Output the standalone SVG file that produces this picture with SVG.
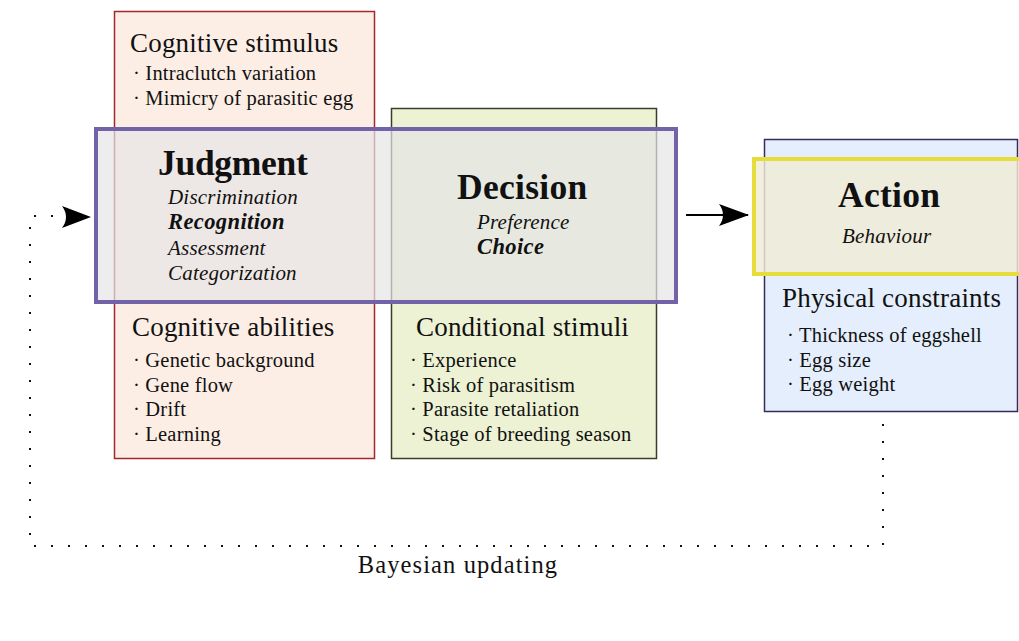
<svg xmlns="http://www.w3.org/2000/svg" width="1019" height="641" viewBox="0 0 1019 641">
<style>
text{font-family:"Liberation Serif","Times New Roman",serif;fill:#111}
.h{font-size:27px;letter-spacing:0.2px}
.it{font-size:20.5px;letter-spacing:0.2px}
.t{font-size:35.5px;font-weight:bold;letter-spacing:0.3px}
.s{font-size:21px;font-style:italic;letter-spacing:0.2px}
.sb{font-size:22.5px;font-style:italic;font-weight:bold;letter-spacing:0.4px}
.dot{fill:none;stroke:#111;stroke-width:2;stroke-dasharray:2 15}
</style>
<defs>
<marker id="ah" viewBox="0 0 30 22" refX="29" refY="11" markerWidth="30" markerHeight="22" markerUnits="userSpaceOnUse" orient="auto">
<path d="M0,0 L30,11 L0,22 Q8,11 0,0 Z" fill="#000"/>
</marker>
</defs>
<rect width="1019" height="641" fill="#fff"/>
<g id="cognitive">
<rect x="114.5" y="11.5" width="260" height="447" fill="#fdeee5" stroke="#a3272b" stroke-width="1.5"/>
<text class="h" x="130" y="52">Cognitive stimulus</text>
<text class="it" x="133" y="80">· Intraclutch variation</text>
<text class="it" x="133" y="105">· Mimicry of parasitic egg</text>
<text class="h" x="132" y="336">Cognitive abilities</text>
<text class="it" x="133" y="367">· Genetic background</text>
<text class="it" x="133" y="392">· Gene flow</text>
<text class="it" x="133" y="416">· Drift</text>
<text class="it" x="133" y="441">· Learning</text>
</g>
<g id="conditional">
<rect x="391.5" y="108.5" width="265" height="350" fill="#ecf2d3" stroke="#3a3f2a" stroke-width="1.5"/>
<text class="h" x="416" y="336">Conditional stimuli</text>
<text class="it" x="410" y="367">· Experience</text>
<text class="it" x="410" y="392">· Risk of parasitism</text>
<text class="it" x="410" y="416">· Parasite retaliation</text>
<text class="it" x="410" y="441">· Stage of breeding season</text>
</g>
<g id="physical">
<rect x="764.5" y="139.5" width="253" height="272" fill="#e4eefc" stroke="#342c5c" stroke-width="1.5"/>
<text class="h" x="782" y="307">Physical constraints</text>
<text class="it" x="787" y="342">· Thickness of eggshell</text>
<text class="it" x="787" y="367">· Egg size</text>
<text class="it" x="787" y="391">· Egg weight</text>
</g>
<g id="judgment-decision">
<rect x="96" y="129" width="580" height="173" fill="#e6e6e6" fill-opacity="0.7" stroke="#7262a8" stroke-width="4"/>
<text class="t" x="158" y="175" style="letter-spacing:-0.3px">Judgment</text>
<text class="s" x="168" y="204">Discrimination</text>
<text class="sb" x="168" y="229">Recognition</text>
<text class="s" x="168" y="255">Assessment</text>
<text class="s" x="168" y="280">Categorization</text>
<text class="t" x="457" y="199">Decision</text>
<text class="s" x="477" y="229">Preference</text>
<text class="sb" x="477" y="254">Choice</text>
</g>
<g id="action">
<rect x="754" y="159" width="268" height="115" fill="#f0ecd6" fill-opacity="0.82" stroke="#e6dc3a" stroke-width="4"/>
<text class="t" x="838" y="207">Action</text>
<text class="s" x="842" y="243">Behaviour</text>
</g>
<g id="connectors">
<line x1="686" y1="215" x2="748" y2="215" stroke="#000" stroke-width="2" marker-end="url(#ah)"/>
<path class="dot" d="M883,424 V546 H30 V216 H60"/>
<path d="M62,206 L91,217 L62,228 Q70,217 62,206 Z" fill="#000"/>
</g>
<text x="458" y="573" font-size="24.5" letter-spacing="1.1" text-anchor="middle">Bayesian updating</text>
</svg>
